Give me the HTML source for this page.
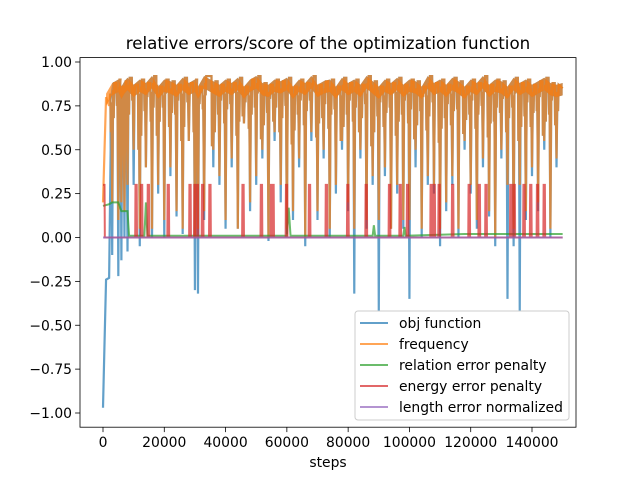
<!DOCTYPE html>
<html><head><meta charset="utf-8"><style>
body{margin:0;background:#fff;}
svg{display:block;font-family:"DejaVu Sans","Liberation Sans",sans-serif;}
</style></head><body>
<svg id="chart" width="640" height="480" viewBox="0 0 640 480">
<rect width="640" height="480" fill="#fff"/>
<text x="328" y="49" font-size="16.7" text-anchor="middle" fill="#000">relative errors/score of the optimization function</text>
<g id="plot"></g>
<g id="axes"></g>
<g id="legend"></g>
<text x="328" y="467" font-size="13.9" text-anchor="middle">steps</text>
</svg>
<script>
// data (steps in thousands)
const dipSteps=[3,5,6,7,8,10,12,14,16,18,20,22,24,26,28,30,31,33,36,38,40,42,44,46,48,50,52,54,56,58,60,62,64,66,68,70,72,74,76,78,80,82,84,86,88,90,92,94,96,98,100,102,104,106,108,110,112,114,116,118,120,122,124,126,128,130,132,134,136,138,140,142,144,146,148];
const freqDips=[0.2,0.1,0.2,0.15,0.3,0.5,0.05,0.4,0.05,0.3,0.1,0.4,0.15,0.05,0.55,0.0,0.05,0.15,0.5,0.35,0.1,0.45,0.05,0.65,0.2,0.35,0.5,0.0,0.6,0.3,0.05,0.15,0.45,0.0,0.6,0.15,0.5,0.05,0.3,0.55,0.2,0.05,0.5,0.1,0.35,0.1,0.4,0.05,0.3,0.1,0.1,0.5,0.05,0.35,0.3,0.05,0.2,0.35,0.05,0.55,0.3,0.1,0.45,0.15,0.0,0.5,0.3,0.05,0.3,0.15,0.4,0.2,0.55,0.05,0.45];
const objDips=[-0.1,-0.22,-0.13,0.0,-0.08,0.3,-0.05,0.4,0.0,0.25,0.0,0.35,0.12,0.02,0.55,-0.3,-0.32,0.1,0.4,0.3,0.05,0.4,0.05,0.65,0.15,0.3,0.45,-0.02,0.55,0.2,0.02,0.1,0.4,-0.05,0.55,0.1,0.45,0.0,0.25,0.5,0.15,-0.32,0.45,0.05,0.3,-0.42,0.35,0.05,0.25,0.05,-0.35,0.4,0.0,0.3,0.25,-0.05,0.15,0.3,0.0,0.5,0.25,0.05,0.4,0.12,-0.05,0.45,-0.35,-0.05,-0.42,0.1,0.35,0.15,0.5,0.0,0.4];
const minorDips=[0.6,0.75,0.55,0.7,0.62,0.78,0.5,0.72,0.66,0.58,0.74,0.63,0.7,0.55,0.77,0.6,0.68,0.73,0.52,0.7,0.65,0.76,0.58,0.69,0.62,0.74,0.56,0.71,0.66,0.6,0.75,0.53,0.7,0.64,0.78,0.57,0.68,0.62,0.73,0.55,0.7,0.66,0.6,0.76,0.52,0.69,0.63,0.74,0.58,0.7,0.65,0.56,0.72,0.61,0.77,0.54,0.68,0.64,0.73,0.59,0.7,0.62,0.75,0.57,0.66,0.71,0.6,0.74,0.55,0.69,0.63,0.72,0.58,0.7,0.64];
const peakValues=[0.82,0.88,0.9,0.86,0.89,0.91,0.87,0.9,0.88,0.92,0.86,0.9,0.89,0.87,0.91,0.88,0.9,0.86,0.92,0.89,0.87,0.9,0.88,0.91,0.86,0.9,0.92,0.88,0.87,0.9,0.89,0.91,0.86,0.9,0.88,0.92,0.87,0.89,0.9,0.86,0.91,0.88,0.9,0.87,0.92,0.89,0.86,0.9,0.88,0.91,0.87,0.9,0.89,0.86,0.92,0.88,0.9,0.87,0.91,0.89,0.86,0.9,0.88,0.92,0.87,0.9,0.89,0.86,0.91,0.88,0.9,0.87,0.89,0.91,0.88,0.87];
const objStart=[[0,-0.97],[0.5,-0.6],[1,-0.24],[2,-0.23],[2.5,0.5]];
const freqStart=[[0,0.2],[0.5,0.5],[1,0.8],[2,0.75]];
const energySteps=[0,10.8,12.6,14.8,21.3,28.4,30,30.8,32.5,34.9,45.7,51.7,55,55.5,59.9,67.4,72.9,79.9,85.9,93.5,97,99.4,107.1,108.1,109.7,114.1,119.5,122.8,125,133.1,134.2,137.4,139.6,141.8,144];
const energyHigh=0.3;
const relSteps=[0,2,3,5,6,8,8.5,13.5,14,14.5,60,60.6,61.2,88,88.4,88.8,98,98.4,98.8,118,150];
const relValues=[0.18,0.19,0.2,0.2,0.15,0.15,0.01,0.01,0.2,0.01,0.01,0.17,0.01,0.01,0.07,0.01,0.01,0.06,0.01,0.02,0.02];
const lenSteps=[0,150];
const lenValues=[0,0];
const xTicks=[0,20000,40000,60000,80000,100000,120000,140000];
const yTicks=[-1.0,-0.75,-0.5,-0.25,0,0.25,0.5,0.75,1.0];

const L=80,R=576,T=57.6,B=427.2;
const X=k=>103+k*1000*(429/140000);
const Y=v=>237.5-v*175.5;
const NS="http://www.w3.org/2000/svg";
const plot=document.getElementById('plot'),axes=document.getElementById('axes'),leg=document.getElementById('legend');
function mk(tag,attrs,parent){const e=document.createElementNS(NS,tag);for(const k in attrs)e.setAttribute(k,attrs[k]);parent.appendChild(e);return e;}
function poly(pts,color,name,w){
 const e=mk('polyline',{points:pts.map(p=>X(p[0]).toFixed(2)+','+Y(p[1]).toFixed(2)).join(' '),fill:'none',stroke:color,'stroke-width':w||2,'stroke-opacity':0.7,'stroke-linejoin':'miter'},plot);
 
 
}
function band(color,name,startK){
 // solid jitter band between each peak and slightly lower level
 const top=[],bot=[];
 top.push([startK,peakValues[0]]);
 for(let i=0;i<dipSteps.length;i++){top.push([dipSteps[i],peakValues[i+1]]);}
 top.push([150,0.88]);
 top.forEach(p=>bot.push([p[0],p[1]-0.07]));
 const pts=top.concat(bot.reverse());
 const e=mk('polygon',{points:pts.map(p=>X(p[0]).toFixed(2)+','+Y(p[1]).toFixed(2)).join(' '),fill:color,'fill-opacity':0.7},plot);
 
 
}
function spiky(start,dips){
 const pts=start.slice();
 for(let i=0;i<dipSteps.length;i++){
  pts.push([dipSteps[i]-0.6,peakValues[i]]);
  pts.push([dipSteps[i]-0.45,minorDips[i]]);
  pts.push([dipSteps[i]-0.3,peakValues[i]-0.05]);
  pts.push([dipSteps[i],dips[i]]);
  pts.push([dipSteps[i]+0.3,peakValues[i+1]-0.04]);
  pts.push([dipSteps[i]+0.5,minorDips[i]+0.08]);
  pts.push([dipSteps[i]+0.7,peakValues[i+1]]);
 }
 pts.push([150,0.85]);
 return pts;
}
poly(spiky(objStart,objDips),'#1f77b4','obj-function-line',2.2);
band('#1f77b4','obj-function-band',2.5);
poly(spiky(freqStart,freqDips),'#ff7f0e','frequency-line',2.2);
band('#ff7f0e','frequency-band',1);
poly(relSteps.map((s,i)=>[s,relValues[i]]),'#2ca02c','relation-error-line');
const ep=[];
energySteps.forEach((s,i)=>{ if(i===0){ep.push([0,energyHigh],[0.5,energyHigh],[0.6,0]);} else {ep.push([s-0.3,0],[s-0.2,energyHigh],[s+0.2,energyHigh],[s+0.3,0]);} });
ep.push([150,0]);
poly(ep,'#d62728','energy-error-line');
poly(lenSteps.map((s,i)=>[s,lenValues[i]]),'#9467bd','length-error-line');

const frame=mk('rect',{x:L,y:T,width:R-L,height:B-T,fill:'none',stroke:'#000','stroke-width':0.8},axes);


xTicks.forEach(t=>{
 const x=X(t/1000);
 mk('line',{x1:x,x2:x,y1:B,y2:B+4.9,stroke:'#000','stroke-width':0.8},axes);
 const tx=mk('text',{x:x,y:B+20,'font-size':13.9,'text-anchor':'middle'},axes);
 tx.textContent=t;
 
 
});
yTicks.forEach(t=>{
 const y=Y(t);
 mk('line',{x1:L-4.9,x2:L,y1:y,y2:y,stroke:'#000','stroke-width':0.8},axes);
 const tx=mk('text',{x:L-8,y:y+5,'font-size':13.9,'text-anchor':'end'},axes);
 tx.textContent=(t<0?'\u2212':'')+Math.abs(t).toFixed(2);
 
 
});

const box=mk('rect',{x:355,y:311,width:214,height:109,rx:3,fill:'#fff','fill-opacity':0.8,stroke:'#ccc','stroke-width':1},leg);


const names=['obj function','frequency','relation error penalty','energy error penalty','length error normalized'];
const cols=['#1f77b4','#ff7f0e','#2ca02c','#d62728','#9467bd'];
names.forEach((n,i)=>{
 const y=323+i*21;
 const g=mk('g',{},leg);
 
 
 mk('line',{x1:360,x2:388,y1:y,y2:y,stroke:cols[i],'stroke-width':2,'stroke-opacity':0.7},g);
 const t=mk('text',{x:399,y:y+5,'font-size':13.9},g);
 t.textContent=n;
});
</script>
</body></html>
